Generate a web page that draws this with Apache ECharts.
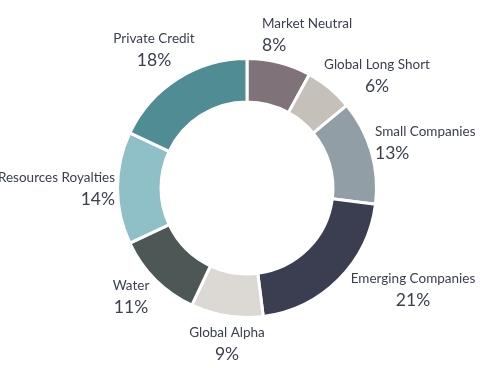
<!DOCTYPE html>
<html><head><meta charset="utf-8">
<style>html,body{margin:0;padding:0;background:#fff}#c{width:484px;height:368px}</style>
<script src="https://cdn.jsdelivr.net/npm/echarts@6/dist/echarts.min.js"></script>
</head><body><div id="c"></div>
<script>
const categories = ['Market Neutral','Global Long Short','Small Companies','Emerging Companies','Global Alpha','Water','Resources Royalties','Private Credit'];
const values = [8,6,13,21,9,11,14,18];
const colors = ['#807279','#c5c0ba','#929ea5','#3a3e50','#dcd9d5','#4d5756','#8fc0c8','#508c93'];

// label text placement (anchor x, block centre y, alignment)
const labelAnchorX = [262, 377, 375, 413, 227, 131, 115, 154];
const labelCenterY = [35, 76, 143, 290, 344, 297, 189, 50];
const labelAlign = ['left','center','left','center','center','center','right','center'];

const CX = 247, CY = 188;
const TXT = '#3b4051';

const chart = echarts.init(document.getElementById('c'), null, {renderer:'canvas'});
chart.setOption({
  animation:false,
  color: colors,
  series:[{
    type:'pie',
    center:[CX, CY],
    radius:[86, 129.5],
    startAngle:90,
    clockwise:true,
    avoidLabelOverlap:false,
    itemStyle:{borderColor:'#fff', borderWidth:3},
    label:{
      show:true,
      position:'outside',
      fontFamily:'Lato',
      formatter: p => '{n|' + p.name + '}\n{v|' + p.value + '%}'
    },
    labelLine:{show:false},
    labelLayout: function(p){
      const i = p.dataIndex;
      return {x: labelAnchorX[i], y: labelCenterY[i], align: labelAlign[i], verticalAlign:'middle'};
    },
    data: categories.map((c,i)=>({
      name:c, value:values[i],
      label:{
        align: labelAlign[i],
        rich:{
          n:{fontFamily:'Lato', fontSize:13.5, color:TXT, lineHeight:21, align:labelAlign[i]},
          v:{fontFamily:'Lato', fontSize:17.5, color:TXT, lineHeight:23, align:labelAlign[i]}
        }
      }
    }))
  }]
});
</script></body></html>
